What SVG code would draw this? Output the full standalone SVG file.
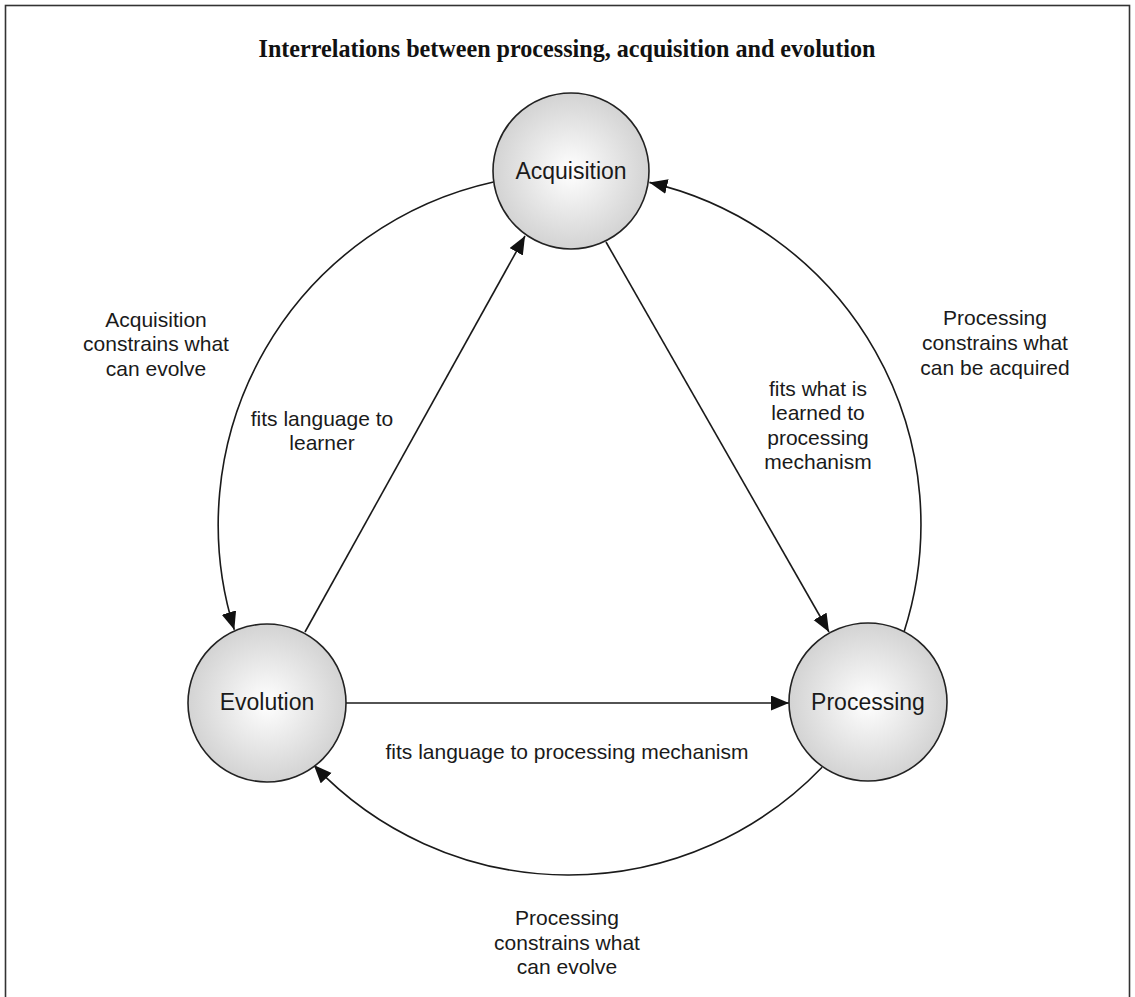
<svg xmlns="http://www.w3.org/2000/svg" width="1135" height="997" viewBox="0 0 1135 997">
<style>
.title{font-family:"Liberation Serif","Times New Roman",serif;font-weight:bold;font-size:26px;fill:#111;text-anchor:middle}
.node-label{font-family:"Liberation Sans",Arial,sans-serif;font-size:23px;fill:#1a1a1a;text-anchor:middle}
.lbl{font-family:"Liberation Sans",Arial,sans-serif;font-size:21px;fill:#1a1a1a;text-anchor:middle}
.node{fill:url(#g);stroke:#222;stroke-width:1.6}
.conn{fill:none;stroke:#1a1a1a;stroke-width:1.6;marker-end:url(#ah)}
</style>
<defs>
<radialGradient id="g" cx="0.5" cy="0.5" r="0.5">
<stop offset="0" stop-color="#ffffff"/>
<stop offset="1" stop-color="#d3d3d3"/>
</radialGradient>
<marker id="ah" markerUnits="userSpaceOnUse" markerWidth="19" markerHeight="16" refX="18" refY="7.5" orient="auto">
<path d="M0,0 L18,7.5 L0,15 z" fill="#111"/>
</marker>
</defs>
<rect x="5.5" y="5.5" width="1124" height="1010" fill="#fff" stroke="#333" stroke-width="1.6"/>
<text class="title" x="567" y="57" textLength="617" lengthAdjust="spacingAndGlyphs">Interrelations between processing, acquisition and evolution</text>
<g id="connectors">
<path class="conn" d="M493.5,182 A351,351 0 0 0 234.3,629.8"/>
<path class="conn" d="M904,632 A351,351 0 0 0 649.4,182.4"/>
<path class="conn" d="M822.1,767.2 A351,351 0 0 1 313.8,765.1"/>
<path class="conn" d="M305,632 L525,236"/>
<path class="conn" d="M606,242 L829,632"/>
<path class="conn" d="M346,703 L789,703"/>
</g>
<g id="node-acquisition">
<circle class="node" cx="571" cy="171" r="78"/>
<text class="node-label" x="571" y="179">Acquisition</text>
</g>
<g id="node-evolution">
<circle class="node" cx="267" cy="703" r="79"/>
<text class="node-label" x="267" y="710">Evolution</text>
</g>
<g id="node-processing">
<circle class="node" cx="868" cy="702" r="79"/>
<text class="node-label" x="868" y="710">Processing</text>
</g>
<g id="labels">
<text class="lbl" x="156" y="327">Acquisition</text>
<text class="lbl" x="156" y="351">constrains what</text>
<text class="lbl" x="156" y="376">can evolve</text>
<text class="lbl" x="322" y="426">fits language to</text>
<text class="lbl" x="322" y="450">learner</text>
<text class="lbl" x="818" y="396">fits what is</text>
<text class="lbl" x="818" y="420">learned to</text>
<text class="lbl" x="818" y="445">processing</text>
<text class="lbl" x="818" y="469">mechanism</text>
<text class="lbl" x="995" y="325">Processing</text>
<text class="lbl" x="995" y="350">constrains what</text>
<text class="lbl" x="995" y="375">can be acquired</text>
<text class="lbl" x="567" y="759">fits language to processing mechanism</text>
<text class="lbl" x="567" y="925">Processing</text>
<text class="lbl" x="567" y="950">constrains what</text>
<text class="lbl" x="567" y="974">can evolve</text>
</g>
</svg>
